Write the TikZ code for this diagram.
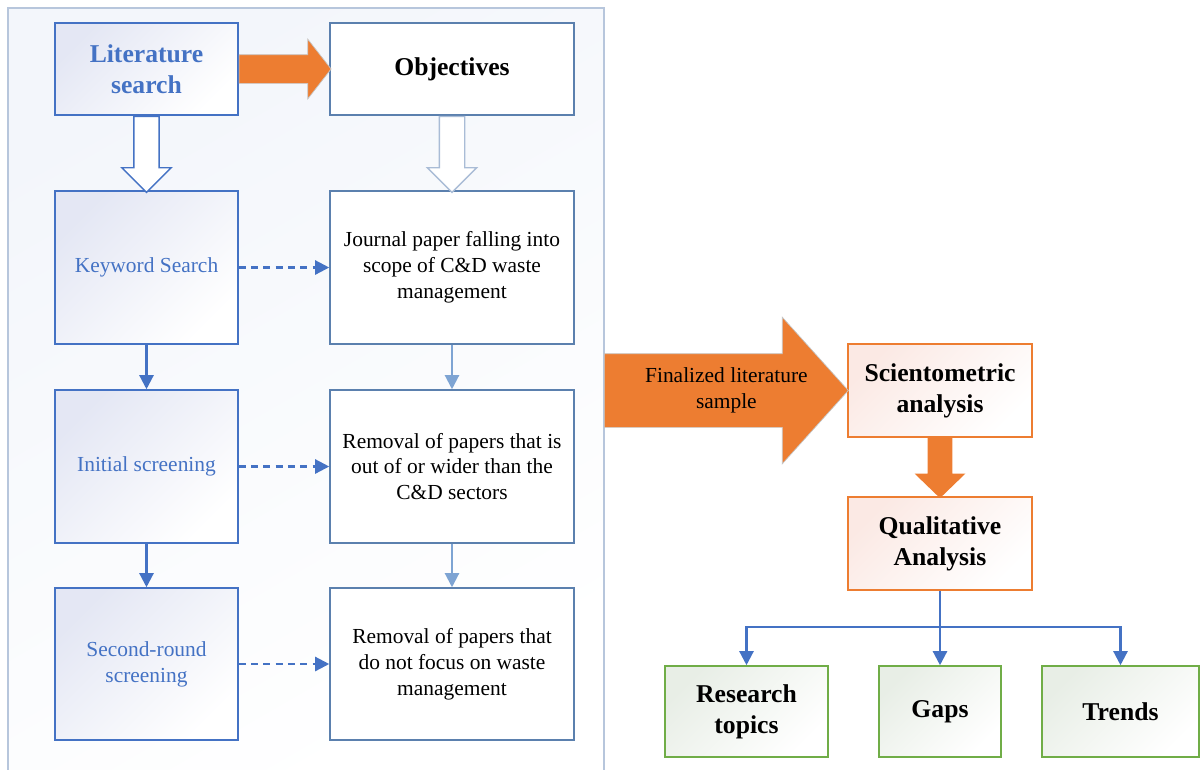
\documentclass[tikz,border=0pt]{standalone}
\usepackage{fontspec}
\setmainfont{Liberation Serif}
\usetikzlibrary{shapes.arrows,arrows.meta,calc}

\definecolor{boxblue}{HTML}{4472C4}
\definecolor{stepblue}{HTML}{5B80AE}
\definecolor{lightstep}{HTML}{7EA4D3}
\definecolor{paleblue}{HTML}{A9BCD6}
\definecolor{panelline}{HTML}{B7C6DC}
\definecolor{panelbg}{HTML}{F3F6FB}
\definecolor{lavender}{HTML}{E4E7F4}
\definecolor{flow}{HTML}{ED7D31}
\definecolor{peach}{HTML}{FBE9E4}
\definecolor{leaf}{HTML}{70AD47}
\definecolor{mint}{HTML}{E8EEE6}

\begin{document}
\begin{tikzpicture}[x=0.02cm,y=-0.02cm,
    leftbox/.style={draw=boxblue, line width=0.9pt, top color=lavender, bottom color=white,
        shading angle=45, text=boxblue, align=center, minimum width=3.66cm, inner sep=2pt},
    rightbox/.style={draw=stepblue, line width=0.9pt, fill=white, align=center,
        minimum width=4.88cm, inner sep=2pt},
    titlefont/.style={font=\fontsize{14.6}{17.6}\selectfont\bfseries},
    bodyfont/.style={font=\fontsize{12.2}{14.7}\selectfont},
    orangebox/.style={draw=flow, line width=0.9pt, top color=peach, bottom color=white,
        shading angle=45, align=center, minimum width=3.68cm, minimum height=1.86cm, titlefont},
    leafbox/.style={draw=leaf, line width=0.9pt, top color=mint, bottom color=white,
        shading angle=45, align=center, minimum height=1.82cm, titlefont},
    blockarrow/.style={single arrow, inner xsep=0pt, minimum width=0pt, anchor=tail},
    bluearrow/.style={draw=boxblue, line width=1.3pt, -{Triangle[length=8pt,width=8pt]}},
    lightarrow/.style={draw=lightstep, line width=1.2pt, -{Triangle[length=8pt,width=8pt]}},
    dasharrow/.style={bluearrow, dash pattern=on 4pt off 3pt}
]
\useasboundingbox (0,0) rectangle (1201,769);

% left panel
\fill[top color=panelbg, bottom color=white, shading angle=30] (8,8) rectangle (604,769);
\draw[panelline, line width=0.8pt] (8,775) -- (8,8) -- (604,8) -- (604,775);

% left column
\node[leftbox, titlefont, minimum height=1.84cm] (lit) at (146.5,69) {Literature\\search};
\node[leftbox, bodyfont, minimum height=3.06cm] (kw) at (146.5,267.5) {Keyword Search};
\node[leftbox, bodyfont, minimum height=3.06cm] (init) at (146.5,466.5) {Initial screening};
\node[leftbox, bodyfont, minimum height=3.04cm] (second) at (146.5,664) {Second-round\\screening};

% right column
\node[rightbox, titlefont, minimum height=1.84cm] (obj) at (452,69) {Objectives};
\node[rightbox, bodyfont, minimum height=3.06cm] (scope) at (452,267.5)
    {Journal paper falling into\\scope of C\&D waste\\management};
\node[rightbox, bodyfont, minimum height=3.06cm] (wider) at (452,466.5)
    {Removal of papers that is\\out of or wider than the\\C\&D sectors};
\node[rightbox, bodyfont, minimum height=3.04cm] (focus) at (452,664)
    {Removal of papers that\\do not focus on waste\\management};

% block arrows
\node[blockarrow, fill=flow, draw=gray!45, line width=0.4pt, inner ysep=0.28cm,
    single arrow head extend=0.31cm, minimum height=1.84cm, single arrow tip angle=104]
    (toobj) at (lit.east) {};
\node[blockarrow, fill=white, draw=boxblue, line width=0.8pt, inner ysep=0.24cm,
    single arrow head extend=0.24cm, minimum height=1.52cm, single arrow tip angle=90, rotate=-90]
    (litdown) at (lit.south) {};
\node[blockarrow, fill=white, draw=paleblue, line width=0.8pt, inner ysep=0.24cm,
    single arrow head extend=0.24cm, minimum height=1.52cm, single arrow tip angle=90, rotate=-90]
    (objdown) at (obj.south) {};

% steps
\draw[bluearrow] (kw.south) -- (init.north);
\draw[bluearrow] (init.south) -- (second.north);
\draw[lightarrow] (scope.south) -- (wider.north);
\draw[lightarrow] (wider.south) -- (focus.north);
\draw[dasharrow] (kw.east) -- (scope.west);
\draw[dasharrow] (init.east) -- (wider.west);
\draw[dasharrow] (second.east) -- (focus.west);

% analysis
\node[orangebox] (sci) at (940,390.5) {Scientometric\\analysis};
\node[orangebox] (qual) at (940,543.5) {Qualitative\\Analysis};
\coordinate (paneledge) at (604,390.5);
\node[blockarrow, fill=flow, draw=gray!45, line width=0.4pt, inner ysep=0.73cm,
    single arrow head extend=0.73cm, minimum height=4.88cm, single arrow tip angle=96]
    (final) at (paneledge) {};
\node[bodyfont, align=center] at ($(final.tail)!0.5!(final.tip)$) {Finalized literature\\sample};
\node[blockarrow, fill=flow, inner ysep=0.24cm,
    single arrow head extend=0.26cm, minimum height=1.2cm, single arrow tip angle=92, rotate=-90]
    (scidown) at (sci.south) {};

% outcomes
\node[leafbox, minimum width=3.26cm] (topics) at (746.5,711.5) {Research\\topics};
\node[leafbox, minimum width=2.44cm] (gaps) at (940,711.5) {Gaps};
\node[leafbox, minimum width=3.14cm] (trends) at (1120.5,711.5) {Trends};
\draw[bluearrow] (qual.south) -- (gaps.north);
\draw[bluearrow] (qual.south) -- ++(0,36) -| (topics.north);
\draw[bluearrow] (qual.south) -- ++(0,36) -| (trends.north);
\end{tikzpicture}
\end{document}
